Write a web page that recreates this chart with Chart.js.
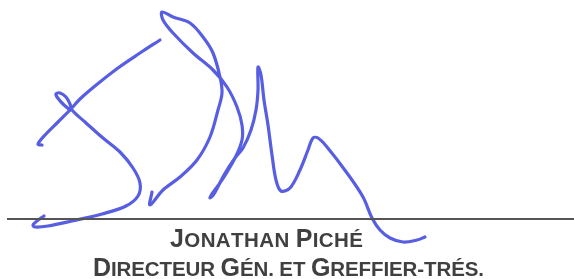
<!DOCTYPE html>
<html>
<head>
<meta charset="utf-8">
<script src="https://cdn.jsdelivr.net/npm/chart.js@4.4.1/dist/chart.umd.min.js"></script>
<style>
  html, body { margin: 0; padding: 0; background: #fff; }
  #wrap { width: 574px; height: 279px; position: relative; }
</style>
</head>
<body>
<div id="wrap"><canvas id="sig"></canvas></div>
<script>
// signature strokes (x, y in page pixels)
const strokeCross = [[160,40],[140,53],[118,68],[95,86],[80,99],[70,110],[58,122],[46,134],[38,144],[42,145]];
const strokeLoop = [[70,110],[63,104],[57,97],[56,94],[60,93],[66,97],[70,104],[72,110],[85,122],[103,138],[120,152],
  [133,168],[140,183],[138,196],[126,206],[102,214],[72,221],[48,226],[35,227],[33,225],[37,221],[44,216]];
const strokeMain = [[152,192],[150,205],[163,190],[180,177],[197,160],[210,137],[218,110],[222,93],[220,77],[213,53],
  [203,37],[190,23],[173,17],[162,12],[163,20],[173,33],[193,53],[213,70],[227,87],[237,107],[242,125],[242,140],
  [235,158],[222,180],[212,194],[210,198],[214,194],[224,175],[235,158],[243,148],[251,130],[256,110],[258,90],
  [258,67],[261,75],[264,100],[268,125],[272,155],[276,180],[281,191],[290,188],[300,170],[308,150],[313,138],
  [318,138],[327,147],[347,173],[363,197],[372,218],[380,230],[390,238],[403,242],[417,240],[425,237]];
const signLine = [[7,219],[574,219]];

// texte sous la ligne
const nameLines = ['Jonathan Piché', 'Directeur Gén. et Greffier-trés.'];
const nameX = [170, 93];
const nameY = [247, 276];

const toPts = arr => arr.map(p => ({ x: p[0], y: p[1] }));

const inkBlue = 'rgb(88,94,226)';

function strokeSet(arr) {
  return {
    data: toPts(arr),
    showLine: true,
    borderColor: inkBlue,
    borderWidth: 3.2,
    tension: 0.35,
    pointRadius: 0,
    borderCapStyle: 'round',
    borderJoinStyle: 'round',
    clip: false
  };
}

// petites capitales dessinées à la main
const smallCapsText = {
  id: 'smallCapsText',
  afterDraw(chart) {
    const ctx = chart.ctx;
    ctx.save();
    ctx.fillStyle = '#404040';
    ctx.textBaseline = 'alphabetic';
    nameLines.forEach((line, i) => {
      let x = nameX[i];
      for (const ch of line) {
        const big = ch !== ch.toLowerCase();
        ctx.font = 'bold ' + (big ? 25 : 20.5) + 'px "Liberation Sans", Arial, sans-serif';
        const c = ch.toUpperCase();
        ctx.fillText(c, x, nameY[i]);
        x += ctx.measureText(c).width + (i === 0 ? 0.4 : -0.1);
      }
    });
    ctx.restore();
  }
};

new Chart(document.getElementById('sig'), {
  type: 'scatter',
  data: {
    datasets: [
      { data: toPts(signLine), showLine: true, borderColor: '#555555', borderWidth: 2, pointRadius: 0, tension: 0, clip: false },
      strokeSet(strokeCross),
      strokeSet(strokeLoop),
      strokeSet(strokeMain)
    ]
  },
  options: {
    responsive: true, maintainAspectRatio: false,
    animation: false,
    layout: { padding: 0 },
    plugins: { legend: { display: false }, tooltip: { enabled: false } },
    scales: {
      x: { type: 'linear', min: 0, max: 574, display: false },
      y: { type: 'linear', min: 0, max: 279, reverse: true, display: false }
    }
  },
  plugins: [smallCapsText]
});
</script>
</body>
</html>
